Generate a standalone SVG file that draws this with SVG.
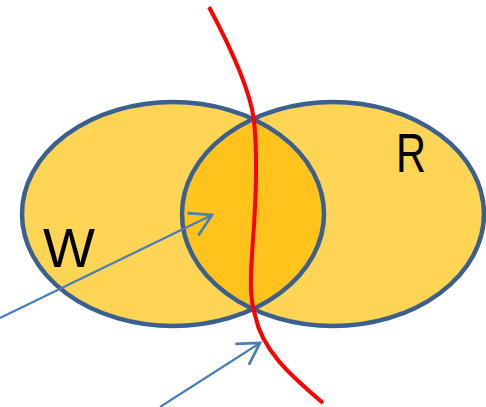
<svg xmlns="http://www.w3.org/2000/svg" width="486" height="407" viewBox="0 0 486 407">
<style>
.set{fill:#FED455;}
.edge{fill:none;stroke:#3B5F8E;stroke-width:4.5;}
.lbl{font-family:"Liberation Sans",Arial,sans-serif;font-size:55px;fill:#000;}
.arrow{fill:none;stroke:#4A7EBB;stroke-width:2.2;}
.red{fill:none;stroke:#FF0000;stroke-width:4;stroke-linecap:butt;}
</style>
<defs>
<clipPath id="clipW"><ellipse cx="173" cy="214" rx="151" ry="112"/></clipPath>
<marker id="head" markerUnits="userSpaceOnUse" markerWidth="30" markerHeight="30" viewBox="-20 -12 22 24" refX="0" refY="0" orient="auto">
<path d="M-17,-10 L0,0 L-17,10" fill="none" stroke="#4A7EBB" stroke-width="2.2"/>
</marker>
</defs>
<g id="W">
<ellipse class="set" cx="173" cy="214" rx="151" ry="112"/>
</g>
<g id="R">
<ellipse class="set" cx="333" cy="214" rx="151" ry="112"/>
</g>
<g id="WR">
<ellipse cx="333" cy="214" rx="151" ry="112" fill="#FFC31B" clip-path="url(#clipW)"/>
</g>
<g id="outlines">
<ellipse class="edge" cx="173" cy="214" rx="151" ry="112"/>
<ellipse class="edge" cx="333" cy="214" rx="151" ry="112"/>
</g>
<text class="lbl" x="43" y="267" textLength="52" lengthAdjust="spacingAndGlyphs">W</text>
<text class="lbl" x="396" y="172" textLength="30" lengthAdjust="spacingAndGlyphs">R</text>
<g id="connectors">
<path class="red" d="M209,7 C232,50 250,90 254,120 C258,160 256,200 253,240 C250,280 250,300 255,315 C262,350 290,375 323,403"/>
<line class="arrow" x1="0" y1="318" x2="212" y2="215" marker-end="url(#head)"/>
<line class="arrow" x1="160" y1="407" x2="260" y2="343" marker-end="url(#head)"/>
</g>
</svg>
